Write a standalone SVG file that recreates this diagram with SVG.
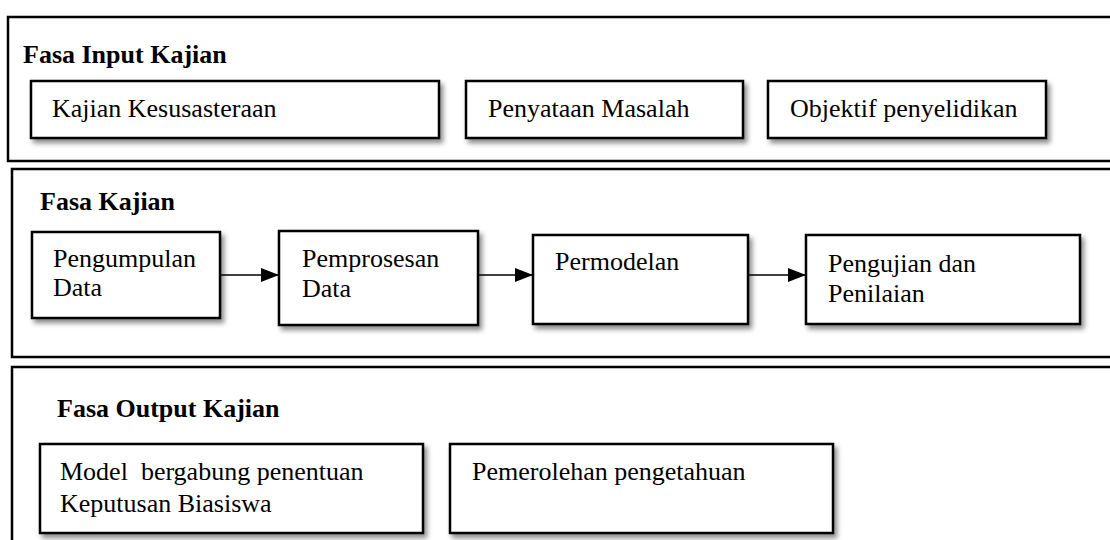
<svg xmlns="http://www.w3.org/2000/svg" width="1110" height="540" viewBox="0 0 1110 540">
<defs>
<filter id="sh" x="-10%" y="-10%" width="130%" height="140%">
<feDropShadow dx="3" dy="4" stdDeviation="2.5" flood-color="#000" flood-opacity="0.45"/>
</filter>
<marker id="ah" markerUnits="userSpaceOnUse" markerWidth="20" markerHeight="14" refX="18" refY="7" orient="auto">
<path d="M0,0 L18,7 L0,14 Z" fill="#000"/>
</marker>
</defs>
<style>
.panel{fill:#fff;stroke:#000;stroke-width:2.5}
.box{fill:#fff;stroke:#000;stroke-width:2.5;filter:url(#sh)}
.t{font-family:"Liberation Serif","Times New Roman",serif;font-size:26px;fill:#000}
.h{font-family:"Liberation Serif","Times New Roman",serif;font-size:26px;font-weight:bold;fill:#000}
.c{stroke:#000;stroke-width:1.5;fill:none;marker-end:url(#ah)}
</style>
<rect width="1110" height="540" fill="#fff"/>
<g id="panel-input">
<rect class="panel" x="8" y="17" width="1120" height="144"/>
<text class="h" x="23" y="63">Fasa Input Kajian</text>
</g>
<g id="panel-kajian">
<rect class="panel" x="12" y="169" width="1120" height="188"/>
<text class="h" x="40" y="210">Fasa Kajian</text>
</g>
<g id="panel-output">
<rect class="panel" x="12" y="367" width="1120" height="200"/>
<text class="h" x="57" y="417">Fasa Output Kajian</text>
</g>
<g id="n-kesusasteraan">
<rect class="box" x="31" y="81" width="408" height="57"/>
<text class="t" x="52" y="117">Kajian Kesusasteraan</text>
</g>
<g id="n-masalah">
<rect class="box" x="466" y="81" width="277" height="57"/>
<text class="t" x="488" y="117">Penyataan Masalah</text>
</g>
<g id="n-objektif">
<rect class="box" x="768" y="81" width="278" height="57"/>
<text class="t" x="790" y="117">Objektif penyelidikan</text>
</g>
<g id="n-pengumpulan">
<rect class="box" x="32" y="232" width="188" height="86"/>
<text class="t" x="53" y="267">Pengumpulan</text>
<text class="t" x="53" y="296">Data</text>
</g>
<g id="n-pemprosesan">
<rect class="box" x="279" y="231" width="199" height="94"/>
<text class="t" x="302" y="267">Pemprosesan</text>
<text class="t" x="302" y="297">Data</text>
</g>
<g id="n-permodelan">
<rect class="box" x="533" y="235" width="215" height="89"/>
<text class="t" x="555" y="270">Permodelan</text>
</g>
<g id="n-pengujian">
<rect class="box" x="806" y="235" width="274" height="89"/>
<text class="t" x="828" y="272">Pengujian dan</text>
<text class="t" x="828" y="302">Penilaian</text>
</g>
<g id="n-model">
<rect class="box" x="40" y="444" width="383" height="89"/>
<text class="t" x="60" y="480" xml:space="preserve">Model  bergabung penentuan</text>
<text class="t" x="60" y="512">Keputusan Biasiswa</text>
</g>
<g id="n-pemerolehan">
<rect class="box" x="450" y="444" width="383" height="89"/>
<text class="t" x="472" y="480">Pemerolehan pengetahuan</text>
</g>
<g id="connectors">
<line class="c" x1="220" y1="275" x2="279" y2="275"/>
<line class="c" x1="478" y1="275" x2="533" y2="275"/>
<line class="c" x1="748" y1="275" x2="806" y2="275"/>
</g>
</svg>
